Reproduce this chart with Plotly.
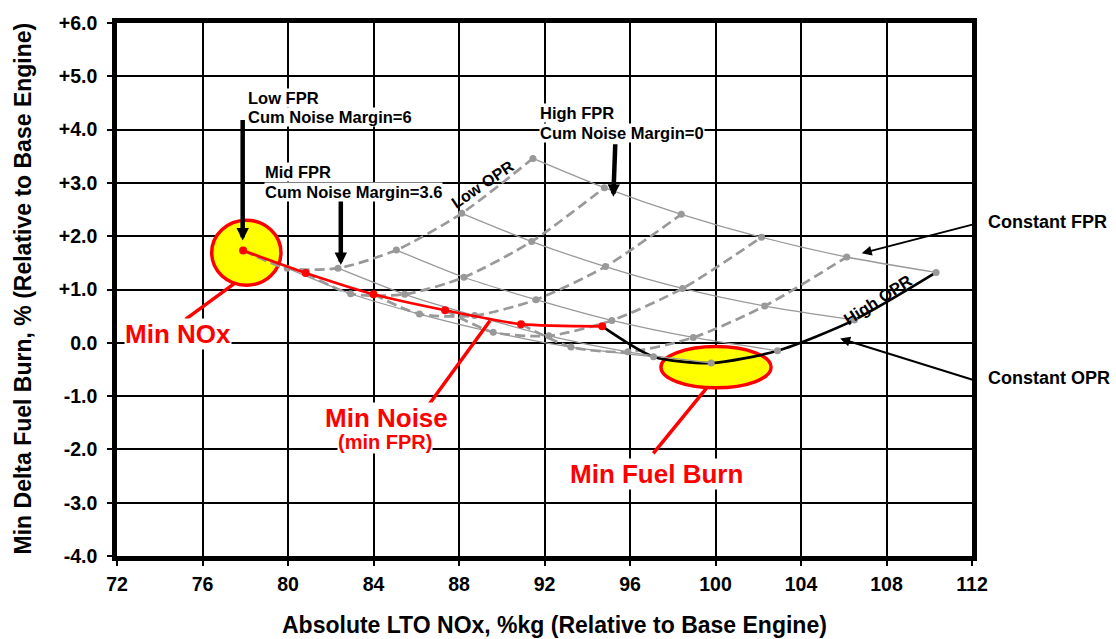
import plotly.graph_objects as go

# Engine design grid: one list per fan pressure ratio (FPR) level, low -> high.
# Within each list the overall pressure ratio (OPR) runs low -> high.
nox_fpr1 = [77.9, 80.83, 84.0, 87.35, 90.9, 94.7]
burn_fpr1 = [1.73, 1.31, 0.91, 0.61, 0.35, 0.31]
nox_fpr2 = [79.96, 82.93, 86.15, 89.6, 93.24, 97.1]
burn_fpr2 = [1.40, 0.92, 0.54, 0.20, -0.08, -0.26]
nox_fpr3 = [82.34, 85.46, 88.73, 92.2, 95.9, 99.8]
burn_fpr3 = [1.40, 0.91, 0.51, 0.13, -0.17, -0.38]
nox_fpr4 = [85.07, 88.23, 91.6, 95.15, 98.96, 102.9]
burn_fpr4 = [1.74, 1.23, 0.81, 0.42, 0.10, -0.15]
nox_fpr5 = [88.13, 91.4, 94.85, 98.46, 102.3, 106.5]
burn_fpr5 = [2.43, 1.90, 1.43, 1.02, 0.69, 0.43]
nox_fpr6 = [91.46, 94.8, 98.4, 102.15, 106.14, 110.32]
burn_fpr6 = [3.46, 2.91, 2.41, 1.98, 1.61, 1.32]

x_tick_vals = [72, 76, 80, 84, 88, 92, 96, 100, 104, 108, 112]
y_tick_vals = [6, 5, 4, 3, 2, 1, 0, -1, -2, -3, -4]
y_tick_text = ["+6.0", "+5.0", "+4.0", "+3.0", "+2.0", "+1.0", "0.0",
               "-1.0", "-2.0", "-3.0", "-4.0"]

nox_rows = [nox_fpr1, nox_fpr2, nox_fpr3, nox_fpr4, nox_fpr5, nox_fpr6]
burn_rows = [burn_fpr1, burn_fpr2, burn_fpr3, burn_fpr4, burn_fpr5, burn_fpr6]
n_opr = len(nox_fpr1)
nox_cols = [[row[j] for row in nox_rows] for j in range(n_opr)]
burn_cols = [[row[j] for row in burn_rows] for j in range(n_opr)]

FONT = "Liberation Sans, Arial, sans-serif"
GRAY = "#999999"
RED = "#FF0000"

fig = go.Figure()

# constant-OPR lines (dashed), the highest OPR drawn solid black
for j in range(n_opr):
    last = j == n_opr - 1
    fig.add_trace(go.Scatter(
        x=nox_cols[j], y=burn_cols[j], mode="lines",
        line=dict(color="black" if last else GRAY, width=2.7,
                  dash="solid" if last else "10px,5px",
                  shape="spline", smoothing=0.7),
        hoverinfo="skip"))

# constant-FPR lines (thin solid gray)
for k in range(1, len(nox_rows)):
    fig.add_trace(go.Scatter(
        x=nox_rows[k], y=burn_rows[k], mode="lines",
        line=dict(color=GRAY, width=1.3, shape="spline", smoothing=0.7),
        hoverinfo="skip"))

# grid points
fig.add_trace(go.Scatter(
    x=[v for row in nox_rows[1:] for v in row],
    y=[v for row in burn_rows[1:] for v in row],
    mode="markers", marker=dict(color=GRAY, size=7), hoverinfo="skip"))

# minimum-FPR (min noise) line
fig.add_trace(go.Scatter(
    x=nox_fpr1, y=burn_fpr1, mode="lines+markers",
    line=dict(color=RED, width=2.7, shape="spline", smoothing=0.7),
    marker=dict(color=RED, size=8), hoverinfo="skip"))

# highlight ellipses: min NOx and min fuel burn
fig.add_shape(type="circle", xref="x", yref="y", layer="between",
              x0=76.43, x1=79.67, y0=1.08, y1=2.30,
              fillcolor="#FFFF00", line=dict(color=RED, width=3.5))
fig.add_shape(type="circle", xref="x", yref="y", layer="between",
              x0=97.45, x1=102.6, y0=-0.845, y1=-0.07,
              fillcolor="#FFFF00", line=dict(color=RED, width=3.5))

# red leader lines for the call-outs
for (xa, ya, xb, yb) in [(77.55, 1.13, 75.2, 0.44),
                         (89.45, 0.415, 86.55, -1.18),
                         (99.59, -0.845, 97.09, -2.076)]:
    fig.add_shape(type="line", xref="x", yref="y", layer="above",
                  x0=xa, y0=ya, x1=xb, y1=yb,
                  line=dict(color=RED, width=3.5))


def label(x, y, text, size, color="black", xanchor="left", angle=0, bg="white",
          xref="x"):
    fig.add_annotation(x=x, y=y, xref=xref, yref="y", text=text, showarrow=False,
                       xanchor=xanchor, yanchor="middle", textangle=angle,
                       bgcolor=bg, borderpad=0,
                       font=dict(family=FONT, size=size, color=color, weight="bold"))


label(78.07, 4.59, "Low FPR", 16.5)
label(78.07, 4.24, "Cum Noise Margin=6", 16.5)
label(78.89, 3.20, "Mid FPR", 16.5)
label(78.89, 2.83, "Cum Noise Margin=3.6", 16.5)
label(91.76, 4.31, "High FPR", 16.5)
label(91.76, 3.94, "Cum Noise Margin=0", 16.5)
label(89.1, 2.97, "Low OPR", 16, xanchor="center", angle=-34, bg="rgba(0,0,0,0)")
label(107.56, 0.81, "High OPR", 16.5, xanchor="center", angle=-33, bg="rgba(0,0,0,0)")
label(1.0175, 2.27, "Constant FPR", 18, bg="rgba(0,0,0,0)", xref="paper")
label(1.0175, -0.66, "Constant OPR", 18, bg="rgba(0,0,0,0)", xref="paper")
label(74.85, 0.17, "Min NOx", 26, color=RED, xanchor="center")
label(84.6, -1.42, "Min Noise", 26, color=RED, xanchor="center")
label(84.55, -1.86, "(min FPR)", 20, color=RED, xanchor="center")
label(97.26, -2.47, "Min Fuel Burn", 26, color=RED, xanchor="center")


def arrow(x, y, ax, ay, width, size):
    fig.add_annotation(x=x, y=y, xref="x", yref="y", ax=ax, ay=ay, text="",
                       showarrow=True, arrowhead=2, arrowsize=size,
                       arrowwidth=width, arrowcolor="black", standoff=0)


arrow(77.88, 1.92, 0, -122, 4.5, 0.55)
arrow(82.47, 1.46, 0, -65, 4.5, 0.55)
arrow(95.22, 2.74, 2, -54, 4.5, 0.55)
arrow(106.84, 1.68, 116, -30, 2, 1.0)
arrow(105.83, 0.08, 138, 43, 2, 1.0)

# axis titles
fig.add_annotation(x=92.49, y=0, xref="x", yref="paper", yshift=-69,
                   text="Absolute LTO NOx, %kg (Relative to Base Engine)",
                   showarrow=False, xanchor="center", yanchor="middle",
                   font=dict(family=FONT, size=23, color="black", weight="bold"))
fig.add_annotation(x=0, y=1.02, xref="paper", yref="y", xshift=-94,
                   text="Min Delta Fuel Burn, % (Relative to Base Engine)",
                   showarrow=False, xanchor="center", yanchor="middle", textangle=-90,
                   font=dict(family=FONT, size=23, color="black", weight="bold"))

axis_common = dict(showgrid=True, gridcolor="black", gridwidth=1.6,
                   showline=True, linecolor="black", linewidth=4.5, mirror=True,
                   ticks="outside", ticklen=5, tickwidth=1.5, tickcolor="black",
                   zeroline=False,
                   tickfont=dict(family=FONT, size=19.5, color="black", weight="bold"))

fig.update_xaxes(range=[72, 112], tickvals=x_tick_vals, ticklabelstandoff=2,
                 **axis_common)
fig.update_yaxes(range=[-4, 6], tickvals=y_tick_vals, ticktext=y_tick_text,
                 ticklabelstandoff=6, **axis_common)

fig.update_layout(width=1116, height=639, showlegend=False,
                  margin=dict(l=117, r=144, t=14, b=83),
                  paper_bgcolor="white", plot_bgcolor="white")

fig.write_html("out.html")
